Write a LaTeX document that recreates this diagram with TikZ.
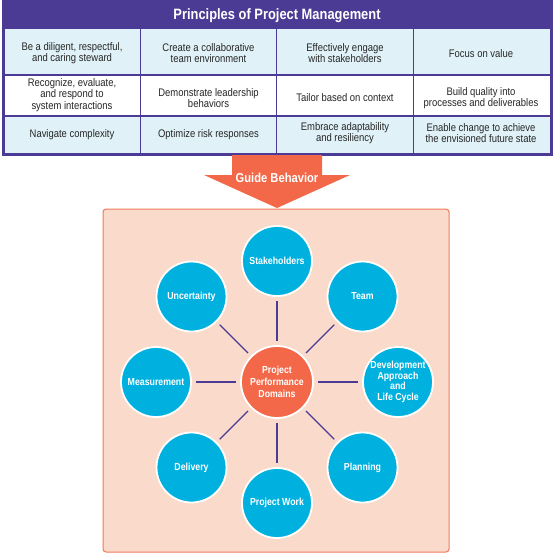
\documentclass[tikz,border=0pt]{standalone}
\usepackage{fontspec}
\setmainfont[FakeStretch=0.86]{Liberation Sans}
\definecolor{pmpurple}{HTML}{4B3B95}
\definecolor{pmcyan}{HTML}{00B1DF}
\definecolor{pmorange}{HTML}{F26849}
\definecolor{pmpeach}{HTML}{FADBCB}
\definecolor{pmlight}{HTML}{E0F2F8}
\definecolor{pmborder}{HTML}{F07A5C}
\begin{document}
\begin{tikzpicture}[x=1pt,y=-1pt,
  cell/.style={align=center,font=\fontsize{11}{11.3}\selectfont,text=black!85,inner sep=0pt},
  dom/.style={circle,fill=pmcyan,draw=white,line width=1.8pt,minimum size=70pt,inner sep=0pt,align=center,text=white,font=\bfseries\fontsize{10.2}{10.7}\selectfont},
  hub/.style={circle,fill=pmorange,draw=white,line width=1.8pt,minimum size=72pt,inner sep=0pt,align=center,text=white,font=\bfseries\fontsize{10.2}{11.7}\selectfont},
  link/.style={draw=pmpurple,line width=1.1pt,shorten <=4pt,shorten >=4pt}]
\useasboundingbox (0,0) rectangle (553,555);
% table
\fill[pmlight] (3,29) rectangle (551,75);
\fill[white] (3,75) rectangle (551,116);
\fill[pmlight] (3,116) rectangle (551,154);
\fill[pmpurple] (2,0) rectangle (553,29.3);
\node[text=white,font=\bfseries\fontsize{15}{16}\selectfont] (title) at (277,16) {Principles of Project Management};
\draw[pmpurple,line width=1.2pt] (3,75) -- (551,75) (3,116) -- (551,116)
  (140.3,29) -- (140.3,154) (276.7,29) -- (276.7,154) (413.3,29) -- (413.3,154);
\draw[pmpurple,line width=3pt] (3.3,1.5) rectangle (551,154);
\node[cell] (a1) at (72,53) {Be a diligent, respectful,\\and caring steward};
\node[cell] (a2) at (208.5,53) {Create a collaborative\\team environment};
\node[cell] (a3) at (345,53) {Effectively engage\\with stakeholders};
\node[cell] (a4) at (481,53.5) {Focus on value};
\node[cell] (b1) at (72,95) {Recognize, evaluate,\\and respond to\\system interactions};
\node[cell] (b2) at (208.5,98) {Demonstrate leadership\\behaviors};
\node[cell] (b3) at (345,97.5) {Tailor based on context};
\node[cell] (b4) at (481,98) {Build quality into\\processes and deliverables};
\node[cell] (c1) at (72,134.3) {Navigate complexity};
\node[cell] (c2) at (208.5,134.3) {Optimize risk responses};
\node[cell] (c3) at (345,133) {Embrace adaptability\\and resiliency};
\node[cell] (c4) at (481,133) {Enable change to achieve\\the envisioned future state};
% arrow
\fill[pmorange] (232,155) -- (322,155) -- (322,175) -- (350,175) -- (277,208) -- (204,175) -- (232,175) -- cycle;
\node[text=white,font=\bfseries\fontsize{13}{14}\selectfont] (guide) at (277,178) {Guide Behavior};
% domain box
\draw[pmborder,fill=pmpeach,line width=1pt,rounded corners=3pt] (103,209) rectangle (449,552);
\node[hub] (hub) at (277,382) {Project\\Performance\\Domains};
\node[dom] (stake) at (277,261) {Stakeholders};
\node[dom] (team) at (362.5,296.5) {Team};
\node[dom] (dev) at (398,382) {Development\\Approach\\and\\Life Cycle};
\node[dom] (plan) at (362.5,467.5) {Planning};
\node[dom] (work) at (277,503) {Project Work};
\node[dom] (deliv) at (191.5,467.5) {Delivery};
\node[dom] (meas) at (156,382) {Measurement};
\node[dom] (unc) at (191.5,296.5) {Uncertainty};
\foreach \n in {stake,team,dev,plan,work,deliv,meas,unc}
  \draw[link] (hub) -- (\n);
\end{tikzpicture}
\end{document}
